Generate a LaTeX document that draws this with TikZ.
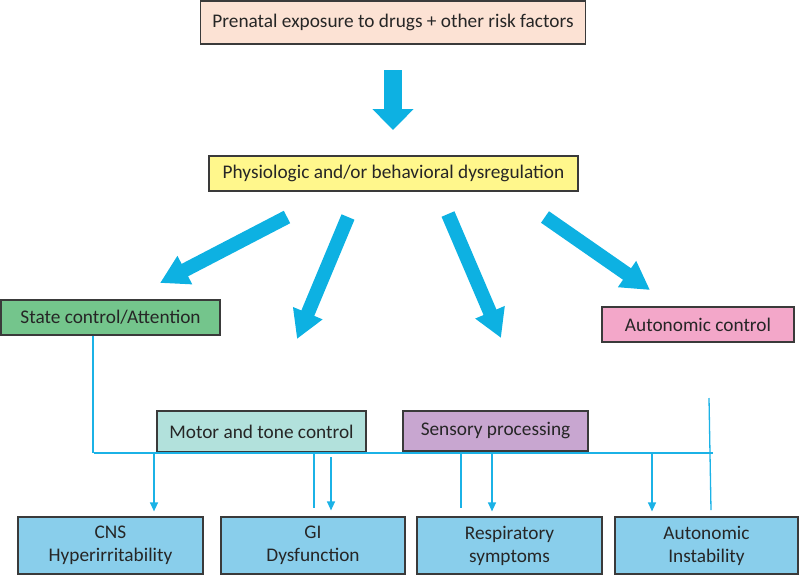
\documentclass[tikz,border=0pt]{standalone}
\usepackage{fontspec}
\setmainfont{Carlito}
\usetikzlibrary{arrows.meta}
\definecolor{peach}{HTML}{FCE2D4}
\definecolor{yel}{HTML}{FFF78C}
\definecolor{grn}{HTML}{74C58C}
\definecolor{teal2}{HTML}{B2E1DC}
\definecolor{lav}{HTML}{C8A6D0}
\definecolor{pnk}{HTML}{F3A7C9}
\definecolor{sky}{HTML}{89CEEB}
\definecolor{arrowc}{HTML}{0DB1E2}
\definecolor{linec}{HTML}{1BB2E6}
\definecolor{boxline}{HTML}{3A3A3A}
\begin{document}
\begin{tikzpicture}[x=1pt,y=-1pt,
  box/.style={draw=boxline, line width=1.2pt, inner sep=0pt, align=center,
    font=\fontsize{19.3}{23}\selectfont, text=black!85},
  fat/.style={draw=arrowc, line width=14pt, -{Triangle[width=30pt,length=28pt]}},
  bigfat/.style={draw=arrowc, line width=18pt, -{Triangle[width=40pt,length=21pt]}},
  thin/.style={draw=linec, line width=1.3pt},
  thinarr/.style={thin, -{Triangle[width=8pt,length=9pt]}}]
\useasboundingbox (0,0) rectangle (800,576);
% boxes
\node[box, fill=peach, minimum width=385pt, minimum height=43pt] (top) at (393,22.5) {Prenatal exposure to drugs + other risk factors};
\node[box, fill=yel, minimum width=369pt, minimum height=35pt] (phys) at (393.5,173.5) {Physiologic and/or behavioral dysregulation};
\node[box, fill=grn, minimum width=219pt, minimum height=35pt] (state) at (110.5,317.5) {State control/Attention};
\node[box, fill=pnk, minimum width=192pt, minimum height=35pt] (auto) at (698,324.5) {Autonomic control};
\node[box, fill=teal2, minimum width=209pt, minimum height=41pt] (motor) at (261.5,431.5) {Motor and tone control};
\node[box, fill=lav, minimum width=185pt, minimum height=40pt] (sens) at (495.5,431) {Sensory processing};
\node[box, fill=sky, minimum width=185pt, minimum height=57pt] (cns) at (110.5,545.5) {CNS\\Hyperirritability};
\node[box, fill=sky, minimum width=184pt, minimum height=57pt] (gi) at (313,545.5) {GI\\Dysfunction};
\node[box, fill=sky, minimum width=185pt, minimum height=57pt] (resp) at (509.5,545.5) {Respiratory\\symptoms};
\node[box, fill=sky, minimum width=183pt, minimum height=57pt] (ainst) at (706.5,545.5) {Autonomic\\Instability};
% fat arrows
\coordinate (t0) at (393,70); \coordinate (h0) at (393,130);
\coordinate (t1) at (287,217); \coordinate (h1) at (160,283);
\coordinate (t2) at (348,217); \coordinate (h2) at (297,339);
\coordinate (t3) at (448,214); \coordinate (h3) at (501,338);
\coordinate (t4) at (545,217); \coordinate (h4) at (650,290);
\draw[bigfat] (t0) -- (h0);
\draw[fat] (t1) -- (h1);
\draw[fat] (t2) -- (h2);
\draw[fat] (t3) -- (h3);
\draw[fat] (t4) -- (h4);
% thin connectors
\coordinate (hL) at (94,453); \coordinate (hR) at (713,453);
\coordinate (sL) at (93,453);
\draw[thin] (93,0 |- state.south) -- (sL);
\draw[thin] (hL) -- (hR);
\coordinate (m1) at (314,508);
\draw[thin] (314,0 |- motor.south) -- (m1);
\coordinate (s1) at (461,508);
\draw[thin] (461,0 |- sens.south) -- (s1);
\coordinate (a1) at (709,398); \coordinate (a2) at (711,510);
\draw[thin] (a1) -- (a2);
\draw[thinarr, shorten >=5pt] (154,453) -- (154,0 |- cns.north);
\draw[thinarr, shorten >=6pt] (331,457) -- (331,0 |- gi.north);
\draw[thinarr, shorten >=5pt] (492,453) -- (492,0 |- resp.north);
\draw[thinarr, shorten >=5pt] (652,453) -- (652,0 |- ainst.north);
\end{tikzpicture}
\end{document}
